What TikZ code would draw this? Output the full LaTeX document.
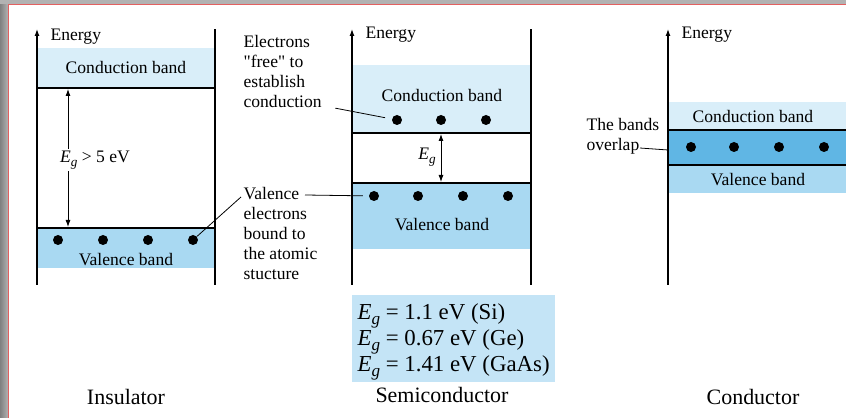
\documentclass[tikz,border=0pt]{standalone}
\usepackage{fontspec}
\setmainfont{Liberation Serif}[Ligatures=TeXOff]
\usetikzlibrary{calc,arrows.meta}
\definecolor{bandaC}{RGB}{217,238,249}
\definecolor{bandaV}{RGB}{169,217,242}
\definecolor{solape}{RGB}{96,182,228}
\definecolor{caja}{RGB}{196,228,246}
\definecolor{marco}{RGB}{226,96,96}
\newcommand{\Eg}{\textit{E}\raisebox{-0.45ex}{\scalebox{0.75}{\textit{g}}}}

\begin{document}
\begin{tikzpicture}[x=0.02cm,y=-0.02cm,line width=0.7pt,>={Latex[length=1.4mm,width=1mm]},
  every node/.style={inner sep=0pt,font=\fontsize{10}{11.3}\selectfont},
  electron/.style={circle,fill,minimum size=0.2cm},
  borde/.style={line width=1.6pt},
  guia/.style={line width=0.45pt},
  titulo/.style={font=\fontsize{12.5}{14}\selectfont}]
  \useasboundingbox (0,0) rectangle (846,418);
  % marco de la captura
  \fill[left color=black!50,right color=black!30] (0,0) rectangle (8,418);
  \fill[black!30] (0,0) rectangle (846,4);
  \draw[marco,line width=1.1pt] (8.5,418)--(8.5,4.5)--(846,4.5);
  % aislante
  \fill[bandaC] (37,48) rectangle (215,88);
  \fill[bandaV] (37,228) rectangle (215,268);
  \draw[->] (37,285)--(37,29); \draw (215,285)--(215,29);
  \draw[borde] (37,88)--(215,88); \draw[borde] (37,228)--(215,228);
  \node[anchor=west] (ien) at (50,37){Energy};
  \node (icb) at (126,67){Conduction band};
  \node (ivb) at (126,260){Valence band};
  \node[electron] (iv1) at (58,240){}; \node[electron] (iv2) at (103,240){};
  \node[electron] (iv3) at (148,240){}; \node[electron] (iv4) at (193,240){};
  \coordinate (ig1) at (68,89); \coordinate (ig2) at (68,227);
  \draw[<->,line width=0.5pt] (ig1)--(ig2);
  \node[fill=white,inner sep=1pt] (ieg) at (95,160){\Eg\ > 5 eV};
  \node[titulo] (ais) at (126,397){Insulator};
  % semiconductor
  \fill[bandaC] (352,65) rectangle (531,133);
  \fill[bandaV] (352,183) rectangle (531,249);
  \draw[->] (352,285)--(352,29); \draw (531,285)--(531,29);
  \draw[borde] (352,133)--(531,133); \draw[borde] (352,183)--(531,183);
  \node[anchor=west] (sen) at (365,35){Energy};
  \node (scb) at (442,95){Conduction band};
  \node (svb) at (442,225){Valence band};
  \node[electron] (sc1) at (397,120){}; \node[electron] (sc2) at (441,120){};
  \node[electron] (sc3) at (486,120){};
  \node[electron] (sv1) at (374,196){}; \node[electron] (sv2) at (418,196){};
  \node[electron] (sv3) at (463,196){}; \node[electron] (sv4) at (508,196){};
  \coordinate (sg1) at (441,134); \coordinate (sg2) at (441,182);
  \draw[<->,line width=0.5pt] (sg1)--(sg2);
  \node (seg) at (427,157){\Eg};
  \node[align=left,anchor=north west] (libres) at (243,35){Electrons\\"free" to\\establish\\conduction};
  \node[align=left,anchor=north west] (ligados) at (243,187){Valence\\electrons\\bound to\\the atomic\\stucture};
  \draw[guia,shorten >=1.3mm] (libres.south east) ++(13,0) -- (sc1);
  \draw[guia,shorten >=1.1mm] (ligados.north west) ++(62,8) -- (sv1);
  \draw[guia] (ligados.north west) ++(-2,10) -- (iv4);
  \fill[caja] (352,295) rectangle (555,382);
  \node[align=left,anchor=north west,font=\fontsize{13}{12.5}\selectfont] (valores) at (357,303)
    {\Eg\ = 1.1 eV (Si)\\\Eg\ = 0.67 eV (Ge)\\\Eg\ = 1.41 eV (GaAs)};
  \node[titulo] (semi) at (442,395){Semiconductor};
  % conductor
  \fill[bandaC] (668,102) rectangle (846,130);
  \fill[solape] (668,130) rectangle (846,165);
  \fill[bandaV] (668,165) rectangle (846,193);
  \draw[->] (668,285)--(668,29);
  \draw[borde] (668,130)--(846,130); \draw[borde] (668,165)--(846,165);
  \node[anchor=west] (cen) at (681,35){Energy};
  \node (ccb) at (753,116){Conduction band};
  \node (cvb) at (758,180){Valence band};
  \node[electron] (cv1) at (691,147){}; \node[electron] (cv2) at (734,147){};
  \node[electron] (cv3) at (779,147){}; \node[electron] (cv4) at (824,147){};
  \node[align=left,anchor=north west] (solapan) at (586,118){The bands\\overlap};
  \coordinate (cax) at (668,150);
  \draw[guia] (solapan.south west) ++(54,-7) -- (cax);
  \node[titulo] (cond) at (753,397){Conductor};
\end{tikzpicture}
\end{document}
